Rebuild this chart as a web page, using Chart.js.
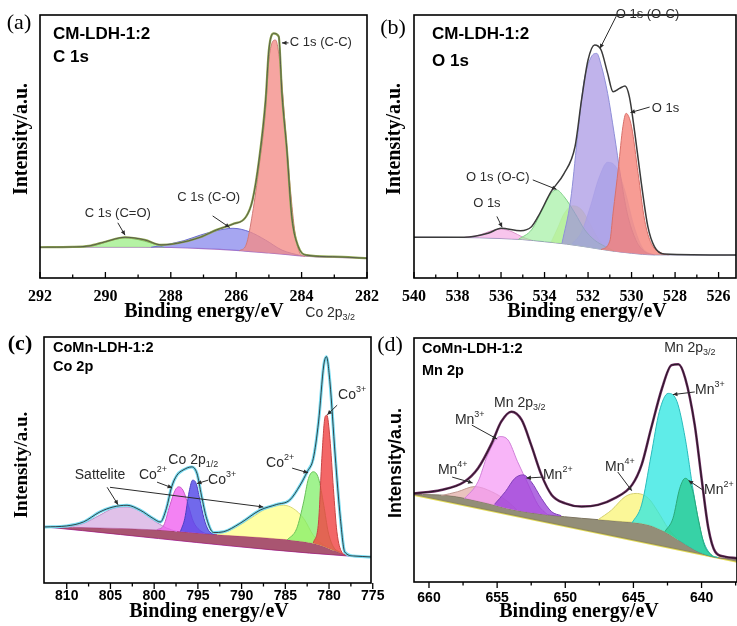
<!DOCTYPE html>
<html>
<head>
<meta charset="utf-8">
<title>XPS spectra</title>
<script src="https://cdn.jsdelivr.net/npm/chart.js@4.4.1/dist/chart.umd.min.js"></script>
<style>
  html, body { margin: 0; padding: 0; background: #fff; }
  #wrap { position: relative; width: 737px; height: 626px; overflow: hidden; }
  #wrap canvas { position: absolute; left: 0; top: 0; }
</style>
</head>
<body>
<div id="wrap">
  <canvas id="chartA" width="737" height="626"></canvas>
  <canvas id="chartB" width="737" height="626"></canvas>
  <canvas id="chartC" width="737" height="626"></canvas>
  <canvas id="chartD" width="737" height="626"></canvas>
</div>
<script>
// ---- (a) C 1s : [binding energy eV, intensity a.u.] ----
const aTicks = [292, 290, 288, 286, 284, 282];
const aMinor = [291, 289, 287, 285, 283];
const aSignal = [[292, 11.7], [291, 11.8], [290.5, 12.2], [290, 13.8], [289.4, 15.5], [288.8, 14.5], [288.3, 12.6],
  [287.8, 13.2], [287.1, 15.5], [286.6, 18.3], [286.1, 20.5], [285.7, 23.3], [285.5, 29.7], [285.3, 44.9],
  [285.1, 67.7], [285.0, 86.7], [284.85, 93.0], [284.7, 91.8], [284.6, 70.0], [284.45, 48.7], [284.3, 23.3],
  [284.1, 11.9], [283.85, 8.7], [283.05, 8.1], [282, 7.5]];
const aBackground = [[292, 11.7], [289, 11.7], [288, 11.6], [287, 11.2], [286, 10.5], [285, 9.5], [284.5, 9.0],
  [284, 8.4], [283.5, 8.0], [283, 7.8], [282, 7.5]];
const aPeakCeqO = [[290.7, 11.7], [290.2, 12.8], [289.8, 14.4], [289.4, 15.2], [289.0, 14.6], [288.6, 13.3], [288.2, 11.6]];
const aPeakCO = [[288.6, 11.7], [288.3, 12.3], [287.6, 14.2], [287.1, 16.3], [286.6, 18.0], [286.1, 18.9], [285.6, 17.6],
  [285.1, 14.4], [284.6, 10.6], [284.0, 8.4]];
const aPeakCC = [[285.9, 10.4], [285.7, 12.5], [285.5, 24.6], [285.3, 42.3], [285.1, 63.9], [285.0, 82.9], [284.8, 90.5],
  [284.65, 80.3], [284.5, 57.5], [284.35, 34.7], [284.2, 17.0], [284.05, 9.4], [283.9, 8.2]];

// ---- (b) O 1s ----
const bTicks = [540, 538, 536, 534, 532, 530, 528, 526];
const bMinor = [539, 537, 535, 533, 531, 529, 527];
const bSignal = [[540, 15.5], [537.7, 15.5], [536.6, 17.0], [536.0, 18.9], [535.1, 18.0], [534.6, 19.5], [534.3, 23.3],
  [533.7, 32.8], [533.1, 39.8], [532.6, 49.9], [532.3, 67.7], [532.0, 82.9], [531.7, 88.6], [531.4, 86.7],
  [531.1, 77.8], [530.85, 70.8], [530.55, 72.1], [530.3, 73.0], [530.1, 68.9], [529.85, 55.1], [529.55, 36.0],
  [529.25, 19.5], [528.95, 11.9], [528.5, 9.1], [525.2, 8.7]];
const bBackground = [[540, 15.5], [537, 15.3], [536, 15.0], [535, 14.6], [534, 13.8], [533, 12.9], [532, 11.7],
  [531, 10.4], [530, 9.4], [529.5, 9.0], [529, 8.8], [525.2, 8.7]];
const bPeak536 = [[537.7, 15.4], [537.0, 16.3], [536.5, 17.8], [536.0, 18.6], [535.5, 17.6], [535.0, 15.5], [534.6, 14.4]];
const bPeak533 = [[535.2, 14.7], [534.6, 18.3], [534.1, 25.9], [533.7, 32.2], [533.45, 33.5], [533.1, 30.9], [532.6, 24.6],
  [532.15, 18.3], [531.7, 14.4], [531.2, 11.9], [530.8, 10.2]];
const bPeak532y = [[533.7, 13.6], [533.4, 19.0], [533.1, 24.5], [532.7, 27.5], [532.3, 26.0], [531.9, 20.5], [531.5, 14.5],
  [531.1, 10.8]];
const bPeak532 = [[533.2, 13.1], [532.8, 29.7], [532.5, 52.5], [532.2, 74.0], [531.85, 84.1], [531.6, 85.4], [531.4, 81.0],
  [531.1, 70.2], [530.8, 55.0], [530.5, 38.5], [530.2, 24.6], [529.8, 14.4], [529.4, 10.0], [528.95, 8.8]];
const bPeak531 = [[532.8, 12.5], [532.3, 17.5], [531.9, 27.0], [531.5, 38.0], [531.1, 44.0], [530.7, 42.0], [530.3, 33.0],
  [529.9, 20.0], [529.5, 11.5], [529.1, 9.0]];
const bPeak530 = [[531.4, 10.8], [531.0, 14.0], [530.85, 24.7], [530.6, 42.3], [530.4, 57.5], [530.25, 62.6], [530.0, 57.5],
  [529.7, 39.8], [529.4, 22.0], [529.1, 13.2], [528.6, 9.4], [528.3, 8.8]];

// ---- (c) Co 2p ----
const cTicks = [810, 805, 800, 795, 790, 785, 780, 775];
const cMinor = [807.5, 802.5, 797.5, 792.5, 787.5, 782.5, 777.5];
const cSignal = [[812.5, 22.8], [810.0, 23.2], [808.1, 24.8], [806.2, 28.9], [804.7, 30.9], [803.1, 31.6], [801.6, 29.6],
  [800.1, 26.2], [799.3, 24.8], [798.6, 30.3], [798.0, 39.1], [797.4, 43.8], [796.7, 45.9], [795.7, 47.2],
  [795.1, 44.5], [794.6, 35.7], [794.0, 26.2], [793.2, 20.5], [792.1, 20.8], [790.2, 24.2], [787.9, 29.6],
  [786.0, 31.9], [784.5, 33.7], [783.3, 39.8], [782.5, 45.2], [781.8, 50.6], [781.2, 65.5], [780.6, 88.6],
  [780.3, 92.0], [779.9, 81.8], [779.3, 52.0], [778.7, 26.2], [778.2, 12.6], [777.2, 11.0], [775.2, 10.6]];
const cLinear = [[812.5, 22.8], [777.9, 11.0], [775.2, 10.6]];
const cShirley = [[812.5, 22.8], [806.2, 22.4], [799.3, 21.5], [792.8, 19.6], [787.1, 18.3], [783.3, 17.0], [781.4, 15.8],
  [779.5, 13.3], [778.0, 11.3], [775.2, 10.6]];
const cSatLeft = [[810.0, 22.7], [808.1, 24.2], [806.2, 27.6], [804.7, 30.3], [803.1, 30.9], [801.6, 29.2], [800.1, 25.5],
  [798.6, 22.4], [797.4, 20.9]];
const cCo2Upper = [[799.7, 21.6], [798.9, 23.5], [798.2, 31.6], [797.6, 37.7], [797.2, 39.1], [796.7, 37.7], [796.1, 31.6],
  [795.5, 24.8], [794.8, 21.5], [794.2, 20.2]];
const cCo3Upper = [[797.0, 20.9], [796.5, 26.2], [796.0, 37.1], [795.6, 41.8], [795.2, 40.5], [794.8, 34.3], [794.3, 26.2],
  [793.8, 21.5], [793.2, 19.8]];
const cSatRight = [[792.8, 19.6], [790.9, 22.1], [789.0, 26.2], [787.1, 30.3], [785.2, 31.6], [784.1, 30.3], [782.9, 26.2],
  [781.8, 19.4], [780.6, 15.4], [779.5, 13.3]];
const cCo2Lower = [[784.8, 17.5], [783.7, 22.1], [782.9, 33.0], [782.35, 42.5], [781.8, 45.2], [781.2, 42.5], [780.6, 31.6],
  [780.1, 20.8], [779.5, 14.7], [778.7, 12.4]];
const cCo3Lower = [[781.8, 16.2], [781.2, 24.8], [780.8, 52.0], [780.45, 67.6], [780.25, 68.2], [779.9, 58.8], [779.5, 38.4],
  [779.1, 20.8], [778.55, 12.6], [778.0, 11.3]];

// ---- (d) Mn 2p ----
const dTicks = [660, 655, 650, 645, 640];
const dMinor = [657.5, 652.5, 647.5, 642.5, 637.5];
const dSignal = [[661.1, 36.3], [659.1, 37.7], [657.4, 41.1], [656.4, 46.6], [655.4, 56.8], [654.7, 65.7], [653.95, 69.8],
  [653.2, 66.4], [652.5, 56.1], [651.75, 43.9], [651.0, 35.7], [650.0, 32.2], [648.8, 30.9], [647.6, 31.6],
  [646.4, 34.3], [645.1, 39.8], [644.4, 48.0], [643.7, 63.0], [642.9, 79.4], [642.2, 88.9], [641.7, 89.2],
  [641.2, 83.5], [640.5, 64.3], [640.0, 42.5], [639.5, 22.0], [639.0, 12.4], [638.3, 10.4], [637.4, 9.7]];
const dLinear = [[661.1, 35.7], [637.4, 8.3]];
const dShirley = [[661.1, 35.9], [658.6, 35.4], [656.2, 32.9], [653.7, 29.5], [651.3, 27.5], [648.8, 26.1], [646.4, 25.0],
  [643.9, 23.4], [642.7, 20.6], [641.5, 16.5], [640.25, 12.4], [639.0, 10.1], [637.4, 9.4]];
const dMn4Upper = [[659.1, 35.4], [657.9, 37.0], [656.65, 39.1], [655.4, 37.0], [654.2, 32.9], [653.5, 29.3]];
const dMn3Upper = [[657.4, 34.1], [656.4, 41.1], [655.7, 52.0], [654.8, 59.6], [654.2, 58.2], [653.5, 49.3], [652.7, 39.8],
  [652.0, 31.6], [651.3, 27.5]];
const dMn2Upper = [[655.2, 31.8], [654.4, 37.0], [653.7, 42.5], [653.1, 43.9], [652.5, 41.1], [651.75, 34.3], [651.0, 28.8],
  [650.3, 27.2]];
const dMn4Lower = [[647.6, 25.5], [646.6, 29.5], [645.6, 35.0], [644.8, 36.3], [643.9, 34.3], [643.2, 28.8], [642.45, 22.0],
  [641.7, 17.2]];
const dMn3Lower = [[645.1, 24.2], [644.4, 31.6], [643.7, 52.0], [643.1, 69.8], [642.45, 77.3], [641.8, 73.9], [641.2, 58.9],
  [640.6, 37.0], [640.0, 19.3], [639.4, 11.7], [638.8, 10.0]];
const dMn2Lower = [[642.7, 20.6], [642.1, 26.1], [641.6, 38.4], [641.2, 42.5], [640.7, 38.4], [640.25, 26.1], [639.8, 15.2],
  [639.15, 10.4]];

const SANS = '"Liberation Sans", Arial, sans-serif';
const SERIF = '"Liberation Serif", "Times New Roman", serif';

const pts = arr => arr.map(([x, y]) => ({ x, y }));

function trace(data, color, width) {
  return { data: pts(data), borderColor: color, borderWidth: width, fill: false };
}

function peak(data, fillColor, edge, target) {
  return { data: pts(data), borderColor: edge, borderWidth: 1, backgroundColor: fillColor, fill: target };
}

// text with one optional super (^) or sub (_) script part
function richText(ctx, t) {
  const m = t.text.match(/^(.*?)([\^_])(.*)$/);
  const base = m ? m[1] : t.text;
  const script = m ? m[3] : '';
  const size = t.size;
  const small = size * 0.64;
  const weight = t.weight || 'normal';
  const family = t.family || SANS;
  ctx.font = `${weight} ${size}px ${family}`;
  const wb = ctx.measureText(base).width;
  ctx.font = `${weight} ${small}px ${family}`;
  const ws = script ? ctx.measureText(script).width : 0;
  let x0 = t.x;
  if (t.align === 'center' || !t.align) x0 = t.x - (wb + ws) / 2;
  else if (t.align === 'right') x0 = t.x - wb - ws;
  ctx.textAlign = 'left';
  ctx.textBaseline = 'middle';
  ctx.font = `${weight} ${size}px ${family}`;
  ctx.fillText(base, x0, t.y);
  if (script) {
    ctx.font = `${weight} ${small}px ${family}`;
    ctx.fillText(script, x0 + wb, t.y + (m[2] === '^' ? -size * 0.38 : size * 0.3));
  }
}

function arrow(ctx, x1, y1, x2, y2) {
  ctx.beginPath();
  ctx.moveTo(x1, y1);
  ctx.lineTo(x2, y2);
  ctx.stroke();
  const ang = Math.atan2(y2 - y1, x2 - x1);
  const L = 5;
  ctx.beginPath();
  ctx.moveTo(x2, y2);
  ctx.lineTo(x2 - L * Math.cos(ang - 0.45), y2 - L * Math.sin(ang - 0.45));
  ctx.lineTo(x2 - L * Math.cos(ang + 0.45), y2 - L * Math.sin(ang + 0.45));
  ctx.closePath();
  ctx.fill();
}

// frame, tick marks, titles and peak notes
const panelPlugin = {
  id: 'panel',
  afterDraw(chart, args, o) {
    const { ctx, chartArea: a } = chart;
    const xs = chart.scales.x, ys = chart.scales.y;
    ctx.save();
    ctx.strokeStyle = '#000';
    ctx.lineWidth = 1.6;
    ctx.strokeRect(a.left, a.top, a.right - a.left, a.bottom - a.top);
    const dir = o.inward ? -1 : 1;
    ctx.lineWidth = 1.3;
    ctx.beginPath();
    o.major.forEach(v => {
      const px = xs.getPixelForValue(v);
      ctx.moveTo(px, a.bottom);
      ctx.lineTo(px, a.bottom + dir * 6);
    });
    o.minor.forEach(v => {
      const px = xs.getPixelForValue(v);
      ctx.moveTo(px, a.bottom);
      ctx.lineTo(px, a.bottom + dir * 3.5);
    });
    ctx.stroke();

    ctx.fillStyle = '#000';
    o.texts.forEach(t => {
      if (t.rotate) {
        ctx.save();
        ctx.translate(t.x, t.y);
        ctx.rotate(-Math.PI / 2);
        richText(ctx, Object.assign({}, t, { x: 0, y: 0 }));
        ctx.restore();
      } else {
        richText(ctx, t);
      }
    });

    ctx.fillStyle = '#2b2b2b';
    ctx.strokeStyle = '#2b2b2b';
    ctx.lineWidth = 1;
    o.notes.forEach(n => {
      richText(ctx, {
        text: n.text, size: o.noteSize, align: n.align || 'center',
        x: xs.getPixelForValue(n.at[0]), y: ys.getPixelForValue(n.at[1])
      });
      (n.arrows || []).forEach(r => arrow(ctx,
        xs.getPixelForValue(r[0]), ys.getPixelForValue(r[1]),
        xs.getPixelForValue(r[2]), ys.getPixelForValue(r[3])));
    });
    ctx.restore();
  }
};

function makePanel(id, cfg) {
  return new Chart(document.getElementById(id), {
    type: 'line',
    data: { datasets: cfg.datasets },
    options: {
      responsive: false,
      animation: false,
      devicePixelRatio: 1,
      layout: { padding: cfg.padding },
      elements: { point: { radius: 0 }, line: { cubicInterpolationMode: 'monotone' } },
      plugins: { legend: { display: false }, tooltip: { enabled: false }, panel: cfg.panel },
      scales: {
        x: {
          type: 'linear', reverse: true, min: cfg.xMin, max: cfg.xMax,
          afterBuildTicks: s => { s.ticks = cfg.ticks.map(v => ({ value: v })); },
          afterFit: s => { s.height = 30; },
          grid: { drawOnChartArea: false, drawTicks: true, tickLength: cfg.tickGap, tickColor: 'rgba(0,0,0,0)' },
          border: { display: false },
          ticks: { padding: 0, color: '#000', font: cfg.tickFont, maxRotation: 0, autoSkip: false,
                   callback: v => String(v) }
        },
        y: { display: false, min: 0, max: 100 }
      }
    },
    plugins: [panelPlugin]
  });
}

const serifTicks = { family: SERIF, size: 16, weight: 'bold' };
const sansTicks = { family: SANS, size: 14, weight: 'bold' };

// (a)
makePanel('chartA', {
  xMin: 282, xMax: 292, ticks: aTicks, tickGap: 9, tickFont: serifTicks,
  padding: { left: 40, top: 15, right: 370, bottom: 318 },
  datasets: [
    trace(aSignal, '#4a4a4a', 0.8),
    trace(aSignal, '#8fa84e', 2.2),
    peak(aPeakCC, 'rgba(243,140,135,0.78)', '#d07a78', 5),
    peak(aPeakCO, 'rgba(112,112,232,0.62)', '#6a6ad0', 5),
    peak(aPeakCeqO, 'rgba(150,236,125,0.7)', '#7ec46e', 5),
    trace(aBackground, '#b27ac4', 1.2)
  ],
  panel: {
    inward: true, major: aTicks, minor: aMinor, noteSize: 13,
    texts: [
      { text: '(a)', x: 19, y: 23, size: 22, family: SERIF },
      { text: 'CM-LDH-1:2', x: 53, y: 34, size: 17, weight: 'bold', align: 'left' },
      { text: 'C 1s', x: 53, y: 57, size: 17, weight: 'bold', align: 'left' },
      { text: 'Intensity/a.u.', x: 22, y: 139, size: 20, weight: 'bold', family: SERIF, rotate: true },
      { text: 'Binding energy/eV', x: 204, y: 312, size: 20, weight: 'bold', family: SERIF }
    ],
    notes: [
      { text: 'C 1s (C-C)', at: [284.36, 89.4], align: 'left', arrows: [[284.4, 89.4, 284.6, 89.4]] },
      { text: 'C 1s (C-O)', at: [286.84, 30.8], arrows: [[286.72, 23.6, 286.2, 19.2]] },
      { text: 'C 1s (C=O)', at: [289.62, 24.7], arrows: [[289.62, 21.0, 289.4, 16.3]] }
    ]
  }
});

// (b)
makePanel('chartB', {
  xMin: 525.2, xMax: 540, ticks: bTicks, tickGap: 9, tickFont: serifTicks,
  padding: { left: 414, top: 15, right: 1, bottom: 318 },
  datasets: [
    trace(bSignal, '#3a3a3a', 1.5),
    peak(bPeak530, 'rgba(245,128,118,0.78)', '#d8706a', 8),
    peak(bPeak532, 'rgba(160,140,225,0.66)', '#8f8fd8', 8),
    peak(bPeak533, 'rgba(150,238,150,0.62)', '#7fcf86', 8),
    peak(bPeak531, 'rgba(196,204,246,0.8)', 'rgba(170,180,235,0.5)', 8),
    peak(bPeak532y, 'rgba(235,240,130,0.6)', 'rgba(210,220,140,0.4)', 8),
    peak(bPeak536, 'rgba(245,172,230,0.7)', '#dc98cc', 8),
    trace(bBackground, '#8c8cb4', 1),
    trace(bBackground, 'rgba(0,0,0,0)', 0)
  ],
  panel: {
    inward: true, major: bTicks, minor: bMinor, noteSize: 13,
    texts: [
      { text: '(b)', x: 393, y: 28, size: 22, family: SERIF },
      { text: 'CM-LDH-1:2', x: 432, y: 34, size: 17, weight: 'bold', align: 'left' },
      { text: 'O 1s', x: 432, y: 61, size: 17, weight: 'bold', align: 'left' },
      { text: 'Intensity/a.u.', x: 395, y: 139, size: 20, weight: 'bold', family: SERIF, rotate: true },
      { text: 'Binding energy/eV', x: 587, y: 312, size: 20, weight: 'bold', family: SERIF }
    ],
    notes: [
      { text: 'O 1s (O-C)', at: [529.27, 100.3], arrows: [[530.7, 99.6, 531.45, 87.3]] },
      { text: 'O 1s', at: [528.44, 64.6], arrows: [[529.17, 65.0, 530.05, 62.9]] },
      { text: 'O 1s (O-C)', at: [536.15, 38.4], arrows: [[534.54, 37.3, 533.45, 33.7]] },
      { text: 'O 1s', at: [536.65, 28.5], arrows: [[536.19, 23.4, 535.95, 19.3]] }
    ]
  }
});

// (c)
makePanel('chartC', {
  xMin: 775.2, xMax: 812.6, ticks: cTicks, tickGap: 5, tickFont: sansTicks,
  padding: { left: 44, top: 337, right: 366, bottom: 13 },
  datasets: [
    trace(cSignal, '#1e1e1e', 0.8),
    trace(cSignal, '#78dcf2', 3),
    peak(cCo3Lower, 'rgba(240,70,70,0.82)', '#c84444', 8),
    peak(cCo2Lower, 'rgba(125,238,100,0.72)', '#68c058', 8),
    peak(cSatRight, 'rgba(255,255,140,0.78)', '#d8d878', 8),
    peak(cCo3Upper, 'rgba(82,72,232,0.82)', '#4a40c0', 8),
    peak(cCo2Upper, 'rgba(240,95,240,0.78)', '#c85ac8', 8),
    peak(cSatLeft, 'rgba(214,172,226,0.75)', '#b890c8', 8),
    peak(cShirley, 'rgba(150,48,82,0.82)', '#a63a72', 9),
    trace(cLinear, '#b43cb4', 1)
  ],
  panel: {
    inward: false, major: cTicks, minor: cMinor, noteSize: 14,
    texts: [
      { text: '(c)', x: 20, y: 344, size: 22, weight: 'bold', family: SERIF },
      { text: 'CoMn-LDH-1:2', x: 53, y: 348, size: 14.5, weight: 'bold', align: 'left' },
      { text: 'Co 2p', x: 53, y: 367, size: 14.5, weight: 'bold', align: 'left' },
      { text: 'Intensity/a.u.', x: 22, y: 465, size: 19, weight: 'bold', family: SERIF, rotate: true },
      { text: 'Binding energy/eV', x: 209, y: 612, size: 20, weight: 'bold', family: SERIF }
    ],
    notes: [
      { text: 'Co 2p_3/2', at: [779.87, 109.8] },
      { text: 'Co^3+', at: [777.36, 76.4], arrows: [[779.07, 72.3, 780.2, 68.4]] },
      { text: 'Co 2p_1/2', at: [795.53, 49.9] },
      { text: 'Co^2+', at: [785.6, 48.7], arrows: [[784.22, 46.7, 782.4, 44.8]] },
      { text: 'Sattelite', at: [806.19, 43.8],
        arrows: [[805.38, 38.9, 804.13, 31.8], [805.05, 38.9, 787.52, 30.9]] },
      { text: 'Co^2+', at: [800.13, 43.8], arrows: [[799.67, 41.0, 797.95, 38.7]] },
      { text: 'Co^3+', at: [792.23, 41.8], arrows: [[793.83, 41.8, 795.1, 40.4]] }
    ]
  }
});

// (d)
makePanel('chartD', {
  xMin: 637.4, xMax: 661.1, ticks: dTicks, tickGap: 7.5, tickFont: sansTicks,
  padding: { left: 414, top: 338, right: 0, bottom: 14 },
  datasets: [
    trace(dSignal, '#141414', 0.8),
    trace(dSignal, '#6a2a5e', 2.5),
    peak(dMn2Lower, 'rgba(40,200,140,0.72)', '#2aa878', 8),
    peak(dMn3Lower, 'rgba(45,230,225,0.76)', '#28bcbc', 8),
    peak(dMn4Lower, 'rgba(250,245,120,0.76)', '#d4d070', 8),
    peak(dMn2Upper, 'rgba(152,62,215,0.76)', '#8040b8', 8),
    peak(dMn3Upper, 'rgba(245,152,245,0.72)', '#d080d8', 8),
    peak(dMn4Upper, 'rgba(226,172,165,0.72)', '#c09890', 8),
    peak(dShirley, 'rgba(128,122,96,0.85)', '#7c7460', 9),
    trace(dLinear, '#e4dc58', 2)
  ],
  panel: {
    inward: false, major: dTicks, minor: dMinor, noteSize: 14,
    texts: [
      { text: '(d)', x: 390, y: 345, size: 22, family: SERIF },
      { text: 'CoMn-LDH-1:2', x: 422, y: 349, size: 14.5, weight: 'bold', align: 'left' },
      { text: 'Mn 2p', x: 422, y: 371, size: 14.5, weight: 'bold', align: 'left' },
      { text: 'Intensity/a.u.', x: 396, y: 463, size: 18, weight: 'bold', family: SANS, rotate: true },
      { text: 'Binding energy/eV', x: 579, y: 612, size: 20, weight: 'bold', family: SERIF }
    ],
    notes: [
      { text: 'Mn 2p_3/2', at: [640.86, 95.9] },
      { text: 'Mn^3+', at: [639.39, 78.7], arrows: [[640.5, 77.9, 642.1, 76.8]] },
      { text: 'Mn 2p_3/2', at: [653.34, 73.4] },
      { text: 'Mn^3+', at: [657.01, 66.4], arrows: [[656.86, 64.3, 655.0, 58.6]] },
      { text: 'Mn^4+', at: [658.26, 45.9], arrows: [[658.3, 43.0, 656.8, 40.6]] },
      { text: 'Mn^2+', at: [650.55, 43.9], arrows: [[651.65, 43.0, 652.85, 42.6]] },
      { text: 'Mn^4+', at: [646.0, 47.1], arrows: [[646.15, 45.1, 645.12, 37.4]] },
      { text: 'Mn^2+', at: [638.73, 37.7], arrows: [[639.9, 37.7, 640.95, 41.6]] }
    ]
  }
});
</script>
</body>
</html>
